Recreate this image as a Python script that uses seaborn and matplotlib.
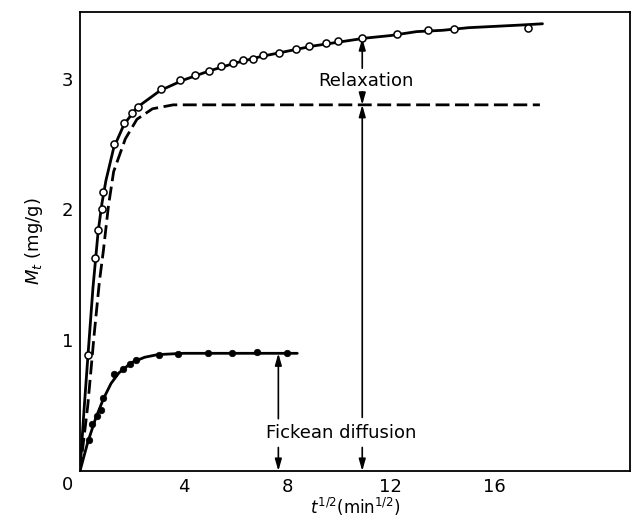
import matplotlib
matplotlib.use("Agg")
import matplotlib.pyplot as plt
import seaborn as sns
import pandas as pd

# ---- data ----
# upper experimental points (open circles)
total_x = [0.31, 0.58, 0.71, 0.84, 0.90, 1.32, 1.71, 2.00, 2.25, 3.13, 3.86, 4.44, 4.99,
           5.43, 5.90, 6.28, 6.67, 7.08, 7.68, 8.33, 8.85, 9.50, 9.97, 10.88, 12.23,
           13.42, 14.44, 17.31]
total_y = [0.89, 1.63, 1.84, 2.00, 2.13, 2.50, 2.66, 2.74, 2.78, 2.92, 2.99, 3.03, 3.06,
           3.10, 3.12, 3.14, 3.15, 3.18, 3.20, 3.23, 3.25, 3.27, 3.29, 3.31, 3.34,
           3.37, 3.38, 3.39]
# upper solid curve
total_fit_x = [0, 0.15, 0.31, 0.5, 0.7, 0.85, 1.0, 1.3, 1.7, 2.2, 3.1, 4.0, 5, 6, 7, 8,
               9, 10, 11, 12, 13, 14, 15, 16, 17, 17.86]
total_fit_y = [0, 0.45, 0.89, 1.40, 1.83, 2.05, 2.22, 2.47, 2.65, 2.78, 2.91, 2.99, 3.06,
               3.12, 3.17, 3.21, 3.25, 3.28, 3.31, 3.33, 3.36, 3.37, 3.39, 3.40, 3.41, 3.42]
# dashed curve
dash_x = [0, 0.3, 0.55, 0.75, 0.9, 1.1, 1.3, 1.75, 2.2, 2.8, 3.6, 17.76]
dash_y = [0, 0.50, 1.05, 1.45, 1.68, 2.03, 2.29, 2.54, 2.69, 2.77, 2.80, 2.80]
# lower experimental points (filled dots)
fick_x = [0.36, 0.47, 0.64, 0.80, 0.90, 1.32, 1.65, 1.93, 2.16, 3.05, 3.80, 4.95, 5.86,
          6.82, 7.98]
fick_y = [0.24, 0.36, 0.42, 0.47, 0.56, 0.74, 0.78, 0.82, 0.85, 0.89, 0.895, 0.90, 0.90,
          0.91, 0.90]
# lower solid curve
fick_fit_x = [0, 0.3, 0.6, 0.9, 1.2, 1.5, 2.0, 2.5, 3.0, 4.0, 8.39]
fick_fit_y = [0, 0.22, 0.40, 0.55, 0.67, 0.75, 0.83, 0.87, 0.89, 0.90, 0.90]

x_ticks = [4, 8, 12, 16]
y_ticks = [1, 2, 3]

sns.set_style("white")
plt.rcParams['font.family'] = ['DejaVu Sans']
plt.rcParams['text.color'] = 'black'
plt.rcParams['axes.labelcolor'] = 'black'

fig = plt.figure(figsize=(6.31, 5.17), dpi=100)
ax = fig.add_axes([80/631, 46/517, 550/631, 459/517])

sns.lineplot(x=total_fit_x, y=total_fit_y, ax=ax, color='black', lw=2.0, sort=False)
sns.lineplot(x=dash_x, y=dash_y, ax=ax, color='black', lw=2.0, sort=False,
             linestyle=(0, (5, 2)))
sns.lineplot(x=fick_fit_x, y=fick_fit_y, ax=ax, color='black', lw=2.0, sort=False)
sns.scatterplot(x=total_x, y=total_y, ax=ax, marker='o', s=26, facecolor='white',
                edgecolor='black', linewidth=1.1, zorder=5)
sns.scatterplot(x=fick_x, y=fick_y, ax=ax, marker='o', s=22, color='black',
                edgecolor='black', linewidth=0.5, zorder=5)

ax.set_xlim(0, 21.24)
ax.set_ylim(0, 3.51)
ax.set_xticks(x_ticks)
ax.set_xticklabels([str(v) for v in x_ticks])
ax.set_xticks([2, 6, 10, 14], minor=True)
ax.set_yticks(y_ticks)
ax.set_yticklabels([str(v) for v in y_ticks])
ax.set_yticks([0.5, 1.5, 2.5], minor=True)
ax.tick_params(axis='both', which='both', direction='in', length=6, width=1.3,
               labelsize=13, top=False, right=False, colors='black')
ax.tick_params(axis='x', pad=5)
ax.tick_params(axis='y', pad=5)
for sp in ax.spines.values():
    sp.set_color('black')
    sp.set_linewidth(1.3)

ax.text(-0.5, -0.107, '0', fontsize=13, ha='center', va='center', clip_on=False)

ax.set_xlabel(r'$t^{1/2}$(min$^{1/2}$)', fontsize=12, labelpad=0)
ax.set_ylabel(r'$M_t$ (mg/g)', fontsize=13, labelpad=12)

arrow = dict(arrowstyle='-|>,head_length=0.7,head_width=0.2', color='black', lw=1.2,
             shrinkA=0, shrinkB=0)
# Relaxation arrows
xr = 10.9
ax.annotate('', xy=(xr, 3.31), xytext=(xr, 3.08), arrowprops=arrow)
ax.text(11.06, 2.98, 'Relaxation', fontsize=13, ha='center', va='center')
ax.annotate('', xy=(xr, 2.80), xytext=(xr, 2.90), arrowprops=arrow)
ax.annotate('', xy=(xr, 2.80), xytext=(xr, 0.41), arrowprops=arrow)
ax.annotate('', xy=(xr, 0.0), xytext=(xr, 0.18), arrowprops=arrow)
# Fickean arrows
xf = 7.66
ax.annotate('', xy=(xf, 0.90), xytext=(xf, 0.40), arrowprops=arrow)
ax.text(10.09, 0.29, 'Fickean diffusion', fontsize=13, ha='center', va='center')
ax.annotate('', xy=(xf, 0.0), xytext=(xf, 0.18), arrowprops=arrow)

fig.savefig('out.png', dpi=100)
